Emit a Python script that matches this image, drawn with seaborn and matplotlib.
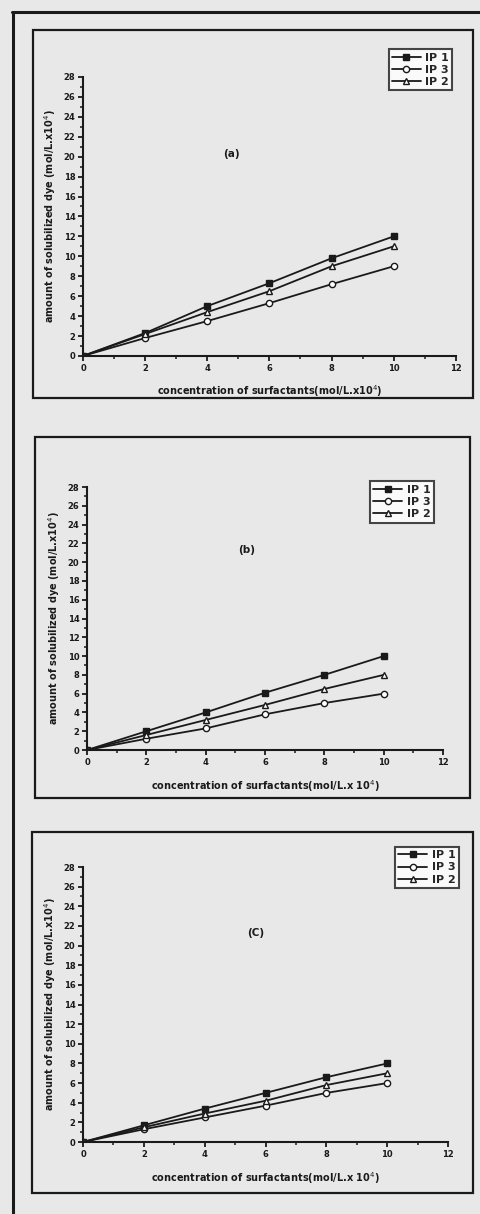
import matplotlib
matplotlib.use('Agg')
import matplotlib.pyplot as plt
import seaborn as sns
import pandas as pd
from matplotlib.patches import Rectangle
from matplotlib.lines import Line2D
from matplotlib.ticker import MultipleLocator

sns.set_style('ticks')
plt.rcParams['font.family'] = ['DejaVu Sans']

# Data
conc = [0, 2, 4, 6, 8, 10]
series_names = ['IP 1', 'IP 3', 'IP 2']

a_ip1 = [0, 2.3, 5.0, 7.3, 9.8, 12.0]
a_ip3 = [0, 1.8, 3.5, 5.3, 7.2, 9.0]
a_ip2 = [0, 2.2, 4.4, 6.5, 9.0, 11.0]

b_ip1 = [0, 2.0, 4.0, 6.1, 8.0, 10.0]
b_ip3 = [0, 1.2, 2.3, 3.8, 5.0, 6.0]
b_ip2 = [0, 1.6, 3.2, 4.8, 6.5, 8.0]

c_ip1 = [0, 1.7, 3.4, 5.0, 6.6, 8.0]
c_ip3 = [0, 1.3, 2.5, 3.7, 5.0, 6.0]
c_ip2 = [0, 1.5, 2.9, 4.2, 5.8, 7.0]

panel_tags = ['(a)', '(b)', '(C)']
xlabels = ['concentration of surfactants(mol/L.x10$^{4}$)',
           'concentration of surfactants(mol/L.x 10$^{4}$)',
           'concentration of surfactants(mol/L.x 10$^{4}$)']
ylabel = 'amount of solubilized dye (mol/L.x10$^{4}$)'

panels = [
    {'IP 1': a_ip1, 'IP 3': a_ip3, 'IP 2': a_ip2},
    {'IP 1': b_ip1, 'IP 3': b_ip3, 'IP 2': b_ip2},
    {'IP 1': c_ip1, 'IP 3': c_ip3, 'IP 2': c_ip2},
]

markers = {'IP 1': ('s', '#1a1a1a'), 'IP 3': ('o', 'white'), 'IP 2': ('^', 'white')}
ink = '#1a1a1a'
bg = '#e8e8e8'

fig = plt.figure(figsize=(4.81, 12.14), dpi=100, facecolor=bg)

# geometry (figure fractions)
axes_pos = [[0.1726, 0.7068, 0.775, 0.2298],
            [0.181, 0.3822, 0.740, 0.2166],
            [0.1726, 0.0593, 0.759, 0.2265]]
box_pos = [[0.0686, 0.672, 0.915, 0.303],
           [0.0728, 0.3427, 0.904, 0.297],
           [0.0665, 0.0173, 0.917, 0.297]]
legend_anchor = [(0.952, 0.964), (0.913, 0.608), (0.965, 0.307)]
tag_xy = [(4.5, 20), (5.1, 21), (5.4, 21)]

# outer frame of the page
fig.add_artist(Line2D([0.027, 0.027], [0.0, 0.99], transform=fig.transFigure,
                      color=ink, lw=2.2))
fig.add_artist(Line2D([0.025, 1.0], [0.99, 0.99], transform=fig.transFigure,
                      color=ink, lw=2.2))

for i, data in enumerate(panels):
    fig.add_artist(Rectangle((box_pos[i][0], box_pos[i][1]), box_pos[i][2], box_pos[i][3],
                             transform=fig.transFigure, fill=False, ec=ink, lw=1.6))
    ax = fig.add_axes(axes_pos[i])
    ax.set_facecolor('none')
    df = pd.DataFrame({'conc': conc})
    handles = []
    for name in series_names:
        df[name] = data[name]
        m, fc = markers[name]
        sns.lineplot(data=df, x='conc', y=name, ax=ax, color=ink, lw=1.3,
                     marker=m, markersize=4.5 if m != 's' else 4,
                     markerfacecolor=fc, markeredgecolor=ink, markeredgewidth=1.0)
        handles.append(Line2D([], [], color=ink, lw=1.3, marker=m, markersize=4.5,
                              markerfacecolor=fc, markeredgecolor=ink, label=name))
    ax.set_xlim(0, 12)
    ax.set_ylim(0, 28)
    ax.xaxis.set_major_locator(MultipleLocator(2))
    ax.xaxis.set_minor_locator(MultipleLocator(1))
    ax.yaxis.set_major_locator(MultipleLocator(2))
    ax.yaxis.set_minor_locator(MultipleLocator(1))
    ax.tick_params(which='major', length=3.5, width=1.3, labelsize=6, pad=2, colors=ink)
    ax.tick_params(which='minor', length=2, width=1.1, colors=ink)
    for lab in ax.get_xticklabels() + ax.get_yticklabels():
        lab.set_fontweight('bold')
    sns.despine(ax=ax)
    ax.spines['left'].set_linewidth(1.5)
    ax.spines['bottom'].set_linewidth(1.5)
    ax.spines['left'].set_color(ink)
    ax.spines['bottom'].set_color(ink)
    ax.set_xlabel(xlabels[i], fontsize=7, fontweight='bold', color=ink, labelpad=8)
    ax.set_ylabel(ylabel, fontsize=7, fontweight='bold', color=ink, labelpad=4)
    ax.text(tag_xy[i][0], tag_xy[i][1], panel_tags[i], fontsize=7.5,
            fontweight='bold', color=ink)
    leg = fig.legend(handles=handles, loc='upper right', bbox_to_anchor=legend_anchor[i],
                     bbox_transform=fig.transFigure, frameon=True, fancybox=False,
                     prop={'size': 8, 'weight': 'bold'}, handlelength=2.6,
                     handletextpad=0.4, borderpad=0.3, labelspacing=0.2)
    leg.get_frame().set_edgecolor(ink)
    leg.get_frame().set_linewidth(1.5)
    leg.get_frame().set_facecolor('white')

fig.savefig('out.png', dpi=100, facecolor=bg)
